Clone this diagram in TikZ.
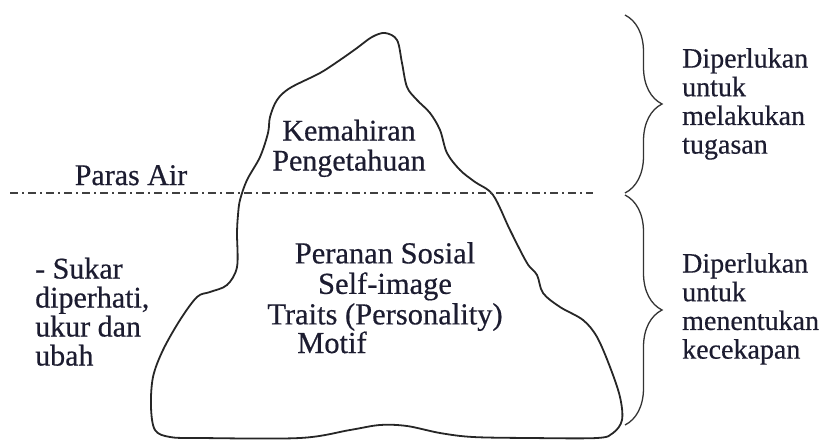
\documentclass[tikz,border=0pt]{standalone}
\usepackage{fontspec}
\setmainfont{Liberation Serif}[FakeBold=0.5]
\usepackage{tikz}
\usetikzlibrary{decorations.pathreplacing}
\definecolor{tinta}{RGB}{28,28,48}

\begin{document}
\begin{tikzpicture}[x=1pt,y=-1pt,
  teks/.style={inner sep=0pt, text=tinta, font=\fontsize{30}{30}\selectfont},
  kanan/.style={inner sep=0pt, text=tinta, align=left, anchor=north west, font=\fontsize{28}{28.7}\selectfont},
  kurungan/.style={draw=black!80, line width=1.3pt, decorate, decoration={brace, amplitude=37pt}},
  garis air/.style={draw=black!75, line width=1.3pt, dash pattern=on 8pt off 4pt on 2pt off 4pt}]
\useasboundingbox (0,0) rectangle (826,439);

\draw[black!85, line width=1.8pt, line join=round] plot[smooth cycle, tension=0.55] coordinates {
  (385,33) (397,40) (402,63) (407,87) (417,100) (430,113) (440,130) (447,153) (460,170)
  (475,182) (493,195) (510,230) (527,263) (537,275) (543,293) (560,307) (583,320)
  (597,337) (610,367) (620,397) (622,420) (613,433) (597,438) (530,438) (473,437)
  (440,433) (407,426) (380,425) (350,430) (300,438) (200,438) (170,437) (155,430)
  (151,407) (153,377) (163,350) (180,320) (197,297) (210,292) (227,285) (237,267)
  (237,233) (238,215) (240,200) (247,180) (260,157) (268,133) (270,117) (277,100)
  (290,88) (320,73) (340,60) (357,48) (372,37)};

\coordinate (airkiri) at (10,193);
\coordinate (airkanan) at (593,193);
\draw[garis air] (airkiri) -- (airkanan);

\coordinate (k1a) at (625,15);
\coordinate (k1b) at (625,193);
\coordinate (k2a) at (625,195);
\coordinate (k2b) at (625,425);
\draw[kurungan] (k1a) -- (k1b);
\draw[kurungan] (k2a) -- (k2b);

\node[teks, anchor=base] (paras) at (131,185) {Paras Air};
\node[teks, align=center, anchor=north] (atas) at (349,119.5) {Kemahiran\\Pengetahuan};
\node[teks, align=center, anchor=north, font=\fontsize{30.5}{30.5}\selectfont] (bawah) at (385,242) {Peranan Sosial\\Self-image\\Traits (Personality)};
\node[teks, anchor=base west, font=\fontsize{30.5}{30.5}\selectfont] (motif) at (297,353) {Motif};
\node[teks, align=left, anchor=north west, font=\fontsize{30}{29}\selectfont] (sukar) at (35,257.5) {- Sukar\\diperhati,\\ukur dan\\ubah};
\node[kanan] (tugas) at (682,47.9) {Diperlukan\\untuk\\melakukan\\tugasan};
\node[kanan] (cekap) at (682,252.9) {Diperlukan\\untuk\\menentukan\\kecekapan};
\end{tikzpicture}
\end{document}
